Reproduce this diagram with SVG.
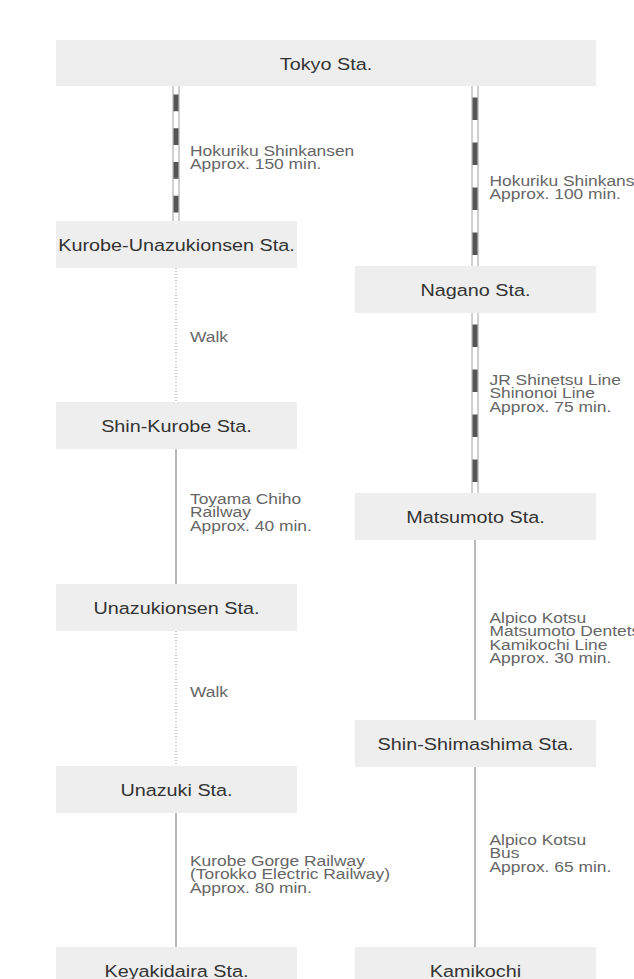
<svg xmlns="http://www.w3.org/2000/svg" width="634" height="979" viewBox="0 0 634 979">
<defs>
<style>
.box{fill:#eeeeee;}
.st{font-family:"Liberation Sans",Arial,sans-serif;font-size:16.5px;fill:#333333;text-anchor:middle;}
.lb{font-family:"Liberation Sans",Arial,sans-serif;font-size:14.5px;fill:#666666;}
.solid{stroke:#a8a8a8;stroke-width:1.6;fill:none;}
.dot{stroke:#999999;stroke-width:1;stroke-dasharray:1 2;fill:none;}
.rail-edge{stroke:#a0a0a0;stroke-width:1;}
.rail-dash{stroke:#555555;stroke-width:5;}
</style>
</defs>
<rect width="634" height="979" fill="#ffffff"/>

<g id="connectors">
  <g id="c-tokyo-kurobe">
    <line class="rail-edge" x1="173" y1="86" x2="173" y2="221"/>
    <line class="rail-edge" x1="179" y1="86" x2="179" y2="221"/>
    <line class="rail-dash" x1="176" y1="94.4" x2="176" y2="221" stroke-dasharray="16.875 16.875"/>
  </g>
  <g id="c-tokyo-nagano">
    <line class="rail-edge" x1="472" y1="86" x2="472" y2="266"/>
    <line class="rail-edge" x1="478" y1="86" x2="478" y2="266"/>
    <line class="rail-dash" x1="475" y1="97.5" x2="475" y2="266" stroke-dasharray="22.5 22.5"/>
  </g>
  <g id="c-nagano-matsumoto">
    <line class="rail-edge" x1="472" y1="313" x2="472" y2="493"/>
    <line class="rail-edge" x1="478" y1="313" x2="478" y2="493"/>
    <line class="rail-dash" x1="475" y1="324.5" x2="475" y2="493" stroke-dasharray="22.5 22.5"/>
  </g>
  <line id="c-kurobe-shinkurobe" class="dot" x1="176" y1="268" x2="176" y2="402"/>
  <line id="c-shinkurobe-unazukionsen" class="solid" x1="176" y1="449" x2="176" y2="584"/>
  <line id="c-unazukionsen-unazuki" class="dot" x1="176" y1="631" x2="176" y2="766"/>
  <line id="c-unazuki-keyakidaira" class="solid" x1="176" y1="813" x2="176" y2="947"/>
  <line id="c-matsumoto-shinshimashima" class="solid" x1="475" y1="540" x2="475" y2="720"/>
  <line id="c-shinshimashima-kamikochi" class="solid" x1="475" y1="767" x2="475" y2="947"/>

  <text class="lb" transform="translate(190,156) scale(1.2,1)"><tspan x="0" y="0">Hokuriku Shinkansen</tspan><tspan x="0" dy="13.3">Approx. 150 min.</tspan></text>
  <text class="lb" transform="translate(489.5,186) scale(1.2,1)"><tspan x="0" y="0">Hokuriku Shinkansen</tspan><tspan x="0" dy="13.3">Approx. 100 min.</tspan></text>
  <text class="lb" transform="translate(190,342) scale(1.2,1)">Walk</text>
  <text class="lb" transform="translate(489.5,385) scale(1.2,1)"><tspan x="0" y="0">JR Shinetsu Line</tspan><tspan x="0" dy="13.3">Shinonoi Line</tspan><tspan x="0" dy="13.3">Approx. 75 min.</tspan></text>
  <text class="lb" transform="translate(190,504) scale(1.2,1)"><tspan x="0" y="0">Toyama Chiho</tspan><tspan x="0" dy="13.3">Railway</tspan><tspan x="0" dy="13.3">Approx. 40 min.</tspan></text>
  <text class="lb" transform="translate(489.5,623) scale(1.2,1)"><tspan x="0" y="0">Alpico Kotsu</tspan><tspan x="0" dy="13.3">Matsumoto Dentetsu</tspan><tspan x="0" dy="13.3">Kamikochi Line</tspan><tspan x="0" dy="13.3">Approx. 30 min.</tspan></text>
  <text class="lb" transform="translate(190,697) scale(1.2,1)">Walk</text>
  <text class="lb" transform="translate(190,866) scale(1.2,1)"><tspan x="0" y="0">Kurobe Gorge Railway</tspan><tspan x="0" dy="13.3">(Torokko Electric  Railway)</tspan><tspan x="0" dy="13.3">Approx. 80 min.</tspan></text>
  <text class="lb" transform="translate(489.5,845) scale(1.2,1)"><tspan x="0" y="0">Alpico Kotsu</tspan><tspan x="0" dy="13.3">Bus</tspan><tspan x="0" dy="13.3">Approx. 65 min.</tspan></text>
</g>

<g id="tokyo"><rect class="box" x="56" y="40" width="540" height="46"/><text class="st" transform="translate(326,69.5) scale(1.2,1)">Tokyo Sta.</text></g>
<g id="kurobe-unazukionsen"><rect class="box" x="56" y="221" width="241" height="47"/><text class="st" transform="translate(176.5,250.5) scale(1.2,1)">Kurobe-Unazukionsen Sta.</text></g>
<g id="shin-kurobe"><rect class="box" x="56" y="402" width="241" height="47"/><text class="st" transform="translate(176.5,431.5) scale(1.2,1)">Shin-Kurobe Sta.</text></g>
<g id="unazukionsen"><rect class="box" x="56" y="584" width="241" height="47"/><text class="st" transform="translate(176.5,613.5) scale(1.2,1)">Unazukionsen Sta.</text></g>
<g id="unazuki"><rect class="box" x="56" y="766" width="241" height="47"/><text class="st" transform="translate(176.5,795.5) scale(1.2,1)">Unazuki Sta.</text></g>
<g id="keyakidaira"><rect class="box" x="56" y="947" width="241" height="47"/><text class="st" transform="translate(176.5,976.5) scale(1.2,1)">Keyakidaira Sta.</text></g>
<g id="nagano"><rect class="box" x="355" y="266" width="241" height="47"/><text class="st" transform="translate(475.5,295.5) scale(1.2,1)">Nagano Sta.</text></g>
<g id="matsumoto"><rect class="box" x="355" y="493" width="241" height="47"/><text class="st" transform="translate(475.5,522.5) scale(1.2,1)">Matsumoto Sta.</text></g>
<g id="shin-shimashima"><rect class="box" x="355" y="720" width="241" height="47"/><text class="st" transform="translate(475.5,749.5) scale(1.2,1)">Shin-Shimashima Sta.</text></g>
<g id="kamikochi"><rect class="box" x="355" y="947" width="241" height="47"/><text class="st" transform="translate(475.5,976.5) scale(1.2,1)">Kamikochi</text></g>
</svg>
